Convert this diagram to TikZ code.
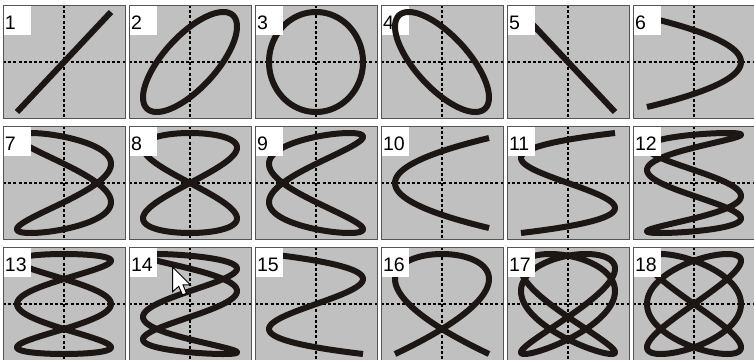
\documentclass[tikz,border=0pt]{standalone}
\usepackage{fontspec}
\setmainfont{Liberation Sans}
\definecolor{panelgray}{HTML}{C0C0C0}
\definecolor{framegray}{HTML}{555555}
\definecolor{ink}{HTML}{1C1714}
\tikzset{
  curve/.style={line width=6pt, draw=ink, line join=round, line cap=butt},
  axisline/.style={line width=2.8pt, draw=black, dash pattern=on 3pt off 2.2pt},
  labelbox/.style={fill=white, draw=none},
  frame/.style={draw=framegray, line width=1pt},
  labeltext/.style={anchor=base west, inner sep=0pt, font=\fontsize{19.5}{19.5}\selectfont},
  cursorshape/.style={fill=white, draw=black, line width=1pt, line join=miter},
}
% #1 x-frequency, #2 y-frequency, #3 phase, #4 domain, #5 samples, #6 y amplitude
\newcommand\liss[6]{\draw[curve] plot[domain=#4, samples=#5, variable=\t] ({61+47*sin(#1*\t+#3)},{57-#6*sin(#2*\t)});}
% #1 column, #2 row, #3 label, #4 curve under label, #5 curve over label, #6 extra
\newcommand\lpanel[6]{%
  \begin{scope}[shift={({3+126*#1},{5+121*#2})}]
    \fill[panelgray] (0,0) rectangle (122,113);
    \draw[axisline] (0,57) -- (122,57);
    \draw[axisline] (61,0) -- (61,113);
    \begin{scope}
      \clip (0,0) rectangle (122,113);
      #4
    \end{scope}
    \fill[labelbox] (0,0) rectangle (28,30);
    \node[labeltext] (lab#3) at (1.8,24.6) {#3};
    \begin{scope}
      \clip (0,0) rectangle (122,113);
      #5
    \end{scope}
    #6
    \draw[frame] (0,0) rectangle (122,113);
  \end{scope}}
\begin{document}
\begin{tikzpicture}[x=1pt,y=-1pt]
\useasboundingbox (0,0) rectangle (754,359);
\fill[white] (0,0) rectangle (754,359);
% row 1
\lpanel{0}{0}{1}{\liss{1}{1}{0}{-90:90}{60}{50}}{}{}
\lpanel{1}{0}{2}{\liss{1}{1}{45}{0:360}{120}{50}}{}{}
\lpanel{2}{0}{3}{\liss{1}{1}{90}{0:360}{120}{50}}{}{}
\lpanel{3}{0}{4}{}{\liss{1}{1}{135}{0:360}{120}{50}}{}
\lpanel{4}{0}{5}{\liss{1}{1}{180}{-90:90}{60}{50}}{}{}
\lpanel{5}{0}{6}{\liss{2}{1}{90}{-90:90}{100}{45}}{}{}
% row 2
\lpanel{0}{1}{7}{\liss{2}{1}{45}{0:360}{200}{50}}{}{}
\lpanel{1}{1}{8}{\liss{2}{1}{0}{0:360}{200}{50}}{}{}
\lpanel{2}{1}{9}{\liss{2}{1}{-45}{0:360}{200}{50}}{}{}
\lpanel{3}{1}{10}{\liss{2}{1}{-90}{-90:90}{100}{45}}{}{}
\lpanel{4}{1}{11}{\liss{3}{1}{180}{-90:90}{150}{50}}{}{}
\lpanel{5}{1}{12}{\liss{3}{1}{135}{0:360}{300}{50}}{}{}
% row 3
\lpanel{0}{2}{13}{\liss{3}{1}{90}{0:360}{300}{50}}{}{}
\lpanel{1}{2}{14}{\liss{3}{1}{45}{0:360}{300}{50}}{}{%
  \draw[cursorshape] (43.5,20) -- ++(0,24.8) -- ++(6.2,-5.4) -- ++(3.8,8.5) -- ++(4,-1.5) -- ++(-3.5,-8.6) -- ++(7.3,0) -- cycle;}
\lpanel{2}{2}{15}{\liss{3}{1}{0}{-90:90}{150}{50}}{}{}
\lpanel{3}{2}{16}{\liss{3}{2}{45}{-45:135}{200}{50}}{}{}
\lpanel{4}{2}{17}{\liss{3}{2}{22.5}{0:360}{300}{50}}{}{}
\lpanel{5}{2}{18}{\liss{3}{2}{0}{0:360}{300}{50}}{}{}
\end{tikzpicture}
\end{document}
